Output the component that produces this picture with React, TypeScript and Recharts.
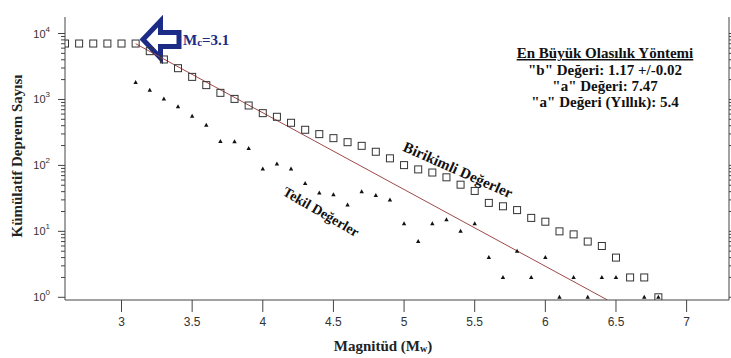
import React from 'react'
import { ComposedChart, Scatter, Line, XAxis, YAxis, Customized } from 'recharts'

// cumulative counts N(>=M)
const cumMags = [2.6, 2.7, 2.8, 2.9, 3.0, 3.1, 3.2, 3.3, 3.4, 3.5, 3.6, 3.7, 3.8, 3.9, 4.0, 4.1, 4.2, 4.3, 4.4, 4.5, 4.6, 4.7, 4.8, 4.9, 5.0, 5.1, 5.2, 5.3, 5.4, 5.5, 5.6, 5.7, 5.8, 5.9, 6.0, 6.1, 6.2, 6.3, 6.4, 6.5, 6.6, 6.7, 6.8]
const cumCounts = [7050, 7050, 7050, 7050, 7050, 7050, 5400, 4040, 2980, 2200, 1650, 1260, 1020, 810, 620, 546, 443, 347, 298, 259, 225, 198, 161, 128, 101, 87, 78, 66, 51, 41, 27, 24, 21, 16, 14, 10, 9, 7, 6, 4, 2, 2, 1]

// non-cumulative counts per bin
const binMags = [3.1, 3.2, 3.3, 3.4, 3.5, 3.6, 3.7, 3.8, 3.9, 4.0, 4.1, 4.2, 4.3, 4.4, 4.5, 4.6, 4.7, 4.8, 4.9, 5.0, 5.1, 5.2, 5.3, 5.4, 5.5, 5.6, 5.7, 5.8, 5.9, 6.0, 6.1, 6.2, 6.3, 6.4, 6.5, 6.7, 6.8]
const binCounts = [1810, 1380, 1020, 773, 558, 408, 231, 229, 181, 88, 105, 88, 53, 38, 36, 25, 40, 35, 30, 13, 7, 13, 15, 10, 13, 4, 2, 5, 2, 4, 1, 2, 1, 2, 2, 1, 1]

// fitted G-R line end points
const fitMags = [3.1, 6.44]
const fitCounts = [7000, 0.91]

const xTicks = [3, 3.5, 4, 4.5, 5, 5.5, 6, 6.5, 7]
const decades = [1, 10, 100, 1000]
const yTicks = decades.flatMap((d) => [1, 2, 3, 4, 5, 6, 7, 8, 9].map((k) => k * d)).concat([10000])

const infoLines = ['"b" Değeri: 1.17 +/-0.02', '"a" Değeri: 7.47', '"a" Değeri (Yıllık): 5.4']

const cumData = cumMags.map((m, i) => ({ m, n: cumCounts[i] }))
const binData = binMags.map((m, i) => ({ m, n: binCounts[i] }))
const fitData = fitMags.map((m, i) => ({ m, n: fitCounts[i] }))

const AXIS = '#444'
const NAVY = '#1c2b85'
const SERIF = '"Liberation Serif", "Times New Roman", serif'
const SANS = '"Liberation Sans", Arial, sans-serif'

const isMajor = (v: number) => Math.abs(Math.log10(v) - Math.round(Math.log10(v))) < 1e-9

const LeftTick = (props: any) => {
	const { x, y, payload } = props
	const v = payload.value
	const major = isMajor(v)
	return (
		<g>
			<line x1={x - (major ? 7 : 4)} x2={x} y1={y} y2={y} stroke={AXIS} />
			{major && (
				<text x={x - 15} y={y + 4} textAnchor="end" fontFamily={SANS} fontSize={11} fill="#333">
					10
					<tspan dy={-6} fontSize={8}>
						{Math.round(Math.log10(v))}
					</tspan>
				</text>
			)}
		</g>
	)
}

const RightTick = (props: any) => {
	const { x, y, payload } = props
	const major = isMajor(payload.value)
	return <line x1={x} x2={x + (major ? 7 : 4)} y1={y} y2={y} stroke={AXIS} />
}

const BottomTick = (props: any) => {
	const { x, y, payload } = props
	return (
		<g>
			<line x1={x} x2={x} y1={y} y2={y + 12} stroke={AXIS} />
			<text x={x} y={y + 26} textAnchor="middle" fontFamily={SANS} fontSize={12} fill="#333">
				{payload.value}
			</text>
		</g>
	)
}

const TopTick = (props: any) => {
	const { x, y } = props
	return <line x1={x} x2={x} y1={y} y2={y - 14} stroke={AXIS} />
}

const Square = (props: any) => {
	const { cx, cy } = props
	return <rect x={cx - 3.5} y={cy - 3.5} width={7} height={7} fill="none" stroke="#333" strokeWidth={1} />
}

const Tri = (props: any) => {
	const { cx, cy } = props
	return <path d={`M${cx},${cy - 2.5} L${cx + 2.2},${cy + 1.5} L${cx - 2.2},${cy + 1.5} Z`} fill="#111" />
}

const Notes = () => (
	<g>
		{/* Mc arrow */}
		<path
			d="M143,39.5 L160.5,21 L160.5,32.5 L179,32.5 L179,46.5 L160.5,46.5 L160.5,58 Z"
			fill="#fff"
			stroke={NAVY}
			strokeWidth={5}
			strokeLinejoin="miter"
		/>
		<text x={183} y={45} fontFamily={SERIF} fontWeight="bold" fontSize={15} fill={NAVY}>
			M
			<tspan fontSize={11} dy={1}>
				c
			</tspan>
			<tspan dy={-1}>=3.1</tspan>
		</text>

		{/* method box */}
		<text x={605} y={58} textAnchor="middle" fontFamily={SERIF} fontWeight="bold" fontSize={15} fill="#111" textDecoration="underline">
			En Büyük Olasılık Yöntemi
		</text>
		{infoLines.map((t, i) => (
			<text key={t} x={605} y={75 + i * 16} textAnchor="middle" fontFamily={SERIF} fontWeight="bold" fontSize={15} fill="#111">
				{t}
			</text>
		))}

		<text
			x={458}
			y={170}
			textAnchor="middle"
			dominantBaseline="central"
			transform="rotate(24 458 170)"
			fontFamily={SERIF}
			fontWeight="bold"
			fontSize={15}
			fill="#111"
		>
			Birikimli Değerler
		</text>
		<text
			x={321}
			y={212}
			textAnchor="middle"
			dominantBaseline="central"
			transform="rotate(30 321 212)"
			fontFamily={SERIF}
			fontWeight="bold"
			fontSize={14}
			fill="#111"
		>
			Tekil Değerler
		</text>

		{/* axis titles */}
		<text x={383} y={351} textAnchor="middle" fontFamily={SERIF} fontWeight="bold" fontSize={15} fill="#222">
			Magnitüd (M
			<tspan fontSize={10} dy={1}>
				w
			</tspan>
			<tspan dy={-1}>)</tspan>
		</text>
		<text
			x={22}
			y={156}
			textAnchor="middle"
			transform="rotate(-90 22 156)"
			fontFamily={SERIF}
			fontWeight="bold"
			fontSize={15}
			fill="#222"
		>
			Kümülatif Deprem Sayısı
		</text>
	</g>
)

export default function App() {
	return (
		<div style={{ position: 'absolute', left: 0, top: 0, background: '#fff' }}>
			<ComposedChart width={731} height={358} margin={{ top: 17, right: 0, bottom: 0, left: 0 }}>
				<XAxis
					dataKey="m"
					type="number"
					domain={[2.6, 7.3]}
					ticks={xTicks}
					interval={0}
					allowDataOverflow
					height={58}
					tickSize={0}
					tickMargin={0}
					tickLine={false}
					axisLine={{ stroke: AXIS }}
					tick={<BottomTick />}
				/>
				<XAxis
					xAxisId="top"
					orientation="top"
					dataKey="m"
					type="number"
					domain={[2.6, 7.3]}
					ticks={xTicks}
					interval={0}
					allowDataOverflow
					height={0}
					tickSize={0}
					tickMargin={0}
					tickLine={false}
					axisLine={{ stroke: AXIS }}
					tick={<TopTick />}
				/>
				<YAxis
					dataKey="n"
					type="number"
					scale="log"
					domain={[0.91, 17800]}
					ticks={yTicks}
					interval={0}
					allowDataOverflow
					width={65}
					tickSize={0}
					tickMargin={0}
					tickLine={false}
					axisLine={{ stroke: AXIS }}
					tick={<LeftTick />}
				/>
				<YAxis
					yAxisId="right"
					orientation="right"
					dataKey="n"
					type="number"
					scale="log"
					domain={[0.91, 17800]}
					ticks={yTicks}
					interval={0}
					allowDataOverflow
					width={2}
					tickSize={0}
					tickMargin={0}
					tickLine={false}
					axisLine={{ stroke: AXIS }}
					tick={<RightTick />}
				/>
				<Line data={fitData} dataKey="n" type="linear" stroke="#9e4a4a" strokeWidth={1} dot={false} isAnimationActive={false} />
				<Scatter data={cumData} dataKey="n" shape={<Square />} isAnimationActive={false} />
				<Scatter data={binData} dataKey="n" shape={<Tri />} isAnimationActive={false} />
				<Customized component={Notes} />
			</ComposedChart>
		</div>
	)
}
